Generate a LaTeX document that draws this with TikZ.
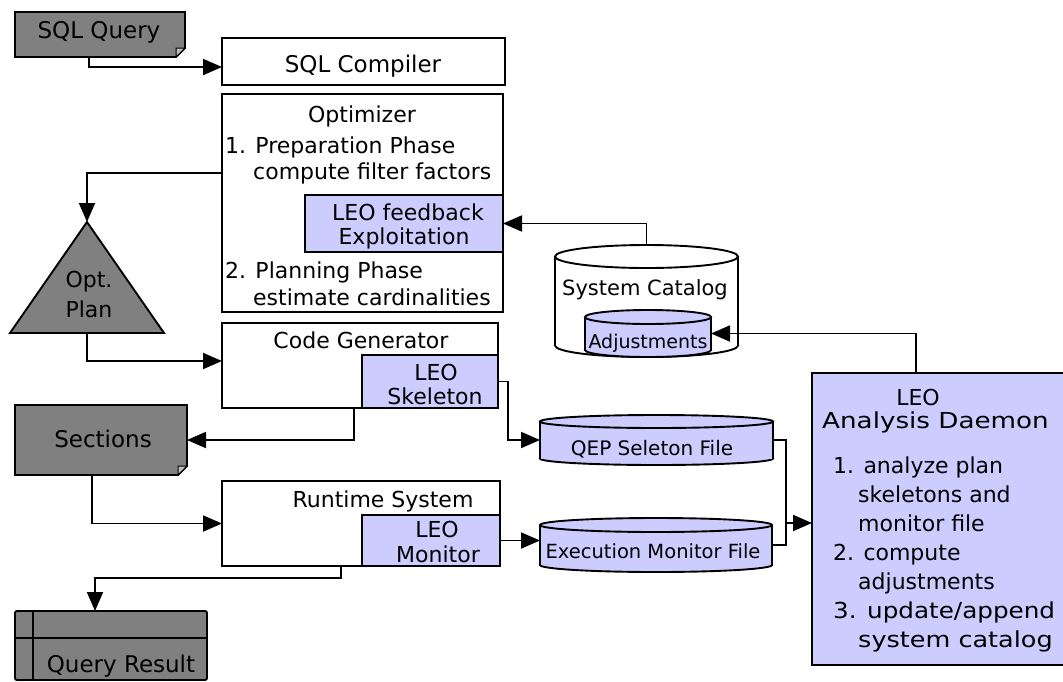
\documentclass[tikz,border=0pt]{standalone}
\usepackage{fontspec}
\setmainfont{DejaVu Sans}
\usetikzlibrary{arrows.meta}
\definecolor{docgray}{RGB}{128,128,128}
\definecolor{foldgray}{RGB}{190,190,190}
\definecolor{leoblue}{RGB}{204,204,255}

% flat storage drum: centre x, x radius, top edge, bottom edge, y radius, fill
\newcommand\drumshape[6]{%
  \filldraw[edge, fill=#6] (#1,#4-#5) ellipse [x radius=#2, y radius=#5];
  \fill[#6] (#1-#2,#3+#5) rectangle (#1+#2,#4-#5);
  \draw[edge] (#1-#2,#3+#5) -- (#1-#2,#4-#5) (#1+#2,#3+#5) -- (#1+#2,#4-#5);
  \filldraw[edge, fill=#6] (#1,#3+#5) ellipse [x radius=#2, y radius=#5];
}
% document sheet with a folded bottom-right corner
\newcommand\docsheet[4]{% left, top, right, bottom
  \filldraw[edge, fill=docgray] (#1,#2) -- (#3,#2) -- (#3,#4-9) -- (#3-9,#4) -- (#1,#4) -- cycle;
  \filldraw[line width=1pt, fill=foldgray] (#3,#4-9) -- (#3-9,#4-9) -- (#3-9,#4) -- cycle;
}

\begin{document}
\begin{tikzpicture}[x=1pt,y=-1pt,
  every node/.style={font=\fontsize{22}{29}\selectfont},
  edge/.style={line width=1.9pt},
  arr/.style={edge,-{Triangle[length=19pt,width=16pt]}},
  frame/.style={draw, line width=1.9pt, inner sep=0pt, outer sep=0pt, anchor=north west},
  plainbox/.style={frame, fill=white},
  leobox/.style={frame, fill=leoblue},
  shell/.style={inner sep=0pt, outer sep=0pt},
  txt/.style={inner sep=0pt, anchor=base},
  txtw/.style={inner sep=0pt, anchor=base west},
  small/.style={font=\fontsize{#1}{#1}\selectfont},
]
\useasboundingbox (0,0) rectangle (1063,681);
\clip (0,0) rectangle (1063,681);
\fill[white] (0,0) rectangle (1063,681);

% ---- processing boxes ----
\node[plainbox, minimum width=283pt, minimum height=47pt] (comp) at (222,38) {};
\node[plainbox, minimum width=281pt, minimum height=218pt] (opt) at (222,94) {};
\node[leobox, minimum width=198pt, minimum height=57pt] (fb) at (305,195) {};
\node[plainbox, minimum width=276pt, minimum height=85pt] (cg) at (222,323) {};
\node[leobox, minimum width=136pt, minimum height=53pt] (skel) at (362,355) {};
\node[plainbox, minimum width=278pt, minimum height=85pt] (rt) at (222,481) {};
\node[leobox, minimum width=138pt, minimum height=51pt] (mon) at (362,515) {};
\node[leobox, minimum width=300pt, minimum height=292pt] (daemon) at (812,373) {};

% ---- documents, plan, result table ----
\docsheet{15}{12}{185}{57}
\node[shell, minimum width=170pt, minimum height=45pt] (sqlq) at (100,34.5) {};
\docsheet{15}{405}{187}{475}
\node[shell, minimum width=172pt, minimum height=70pt] (sec) at (101,440) {};
\filldraw[edge, fill=docgray] (87,222) -- (164,333) -- (10,333) -- cycle;
\node[shell, minimum width=154pt, minimum height=111pt] (plan) at (87,277.5) {};
\filldraw[edge, fill=docgray, rounded corners=2pt] (15,611) rectangle (207,680);
\draw[edge] (15,638) -- (207,638) (33,611) -- (33,680);
\node[shell, minimum width=192pt, minimum height=69pt] (qres) at (111,645.5) {};

% ---- storage ----
\drumshape{646.5}{91.5}{245}{357}{11.5}{white}
\node[shell, minimum width=183pt, minimum height=112pt] (cat) at (646.5,301) {};
\drumshape{648}{63}{310}{357}{7}{leoblue}
\node[shell, minimum width=126pt, minimum height=47pt] (adj) at (648,333.5) {};
\drumshape{656.5}{116.5}{415}{465}{6.5}{leoblue}
\node[shell, minimum width=233pt, minimum height=50pt] (qep) at (656.5,440) {};
\drumshape{656}{116}{518}{572}{7}{leoblue}
\node[shell, minimum width=232pt, minimum height=54pt] (exf) at (656,545) {};

% ---- labels ----
\node[txt, small=23] (sqlql) at (99,38) {SQL Query};
\node[txt, small=23] (compl) at (363,72) {SQL Compiler};
\node[txt] (optl) at (362,122) {Optimizer};
\node[txtw] (opt1a) at (225,153) {1. Preparation Phase};
\node[txtw] (opt1b) at (253,179) {compute filter factors};
\node[txt] (fbl1) at (408,220) {LEO feedback};
\node[txt] (fbl2) at (404,244) {Exploitation};
\node[txtw] (opt2a) at (225,278) {2. Planning Phase};
\node[txtw] (opt2b) at (253,305) {estimate cardinalities};
\node[txt] (planl1) at (89,287) {Opt.};
\node[txt] (planl2) at (89,317) {Plan};
\node[txt] (cgl) at (361,348) {Code Generator};
\node[txt] (skell1) at (436,380) {LEO};
\node[txt] (skell2) at (435,404) {Skeleton};
\node[txt, small=23] (secl) at (103,447) {Sections};
\node[txt] (rtl) at (383,507) {Runtime System};
\node[txt] (monl1) at (437,537) {LEO};
\node[txt] (monl2) at (438,562) {Monitor};
\node[txt, small=23] (qresl) at (121,672) {Query Result};
\node[txt, small=21] (catl) at (645,295) {System Catalog};
\node[txt, small=19] (adjl) at (648,348) {Adjustments};
\node[txt, small=20] (qepl) at (652,455) {QEP Seleton File};
\node[txt, small=19.5] (exfl) at (653,558) {Execution Monitor File};
\node[txt] (dl1) at (918,405) {LEO};
\node[txtw] (dl2) at (822,428) {\scalebox{1.19}[1]{Analysis Daemon}};
\node[txtw] (d1a) at (833,473) {1. analyze plan};
\node[txtw] (d1b) at (858,502) {skeletons and};
\node[txtw] (d1c) at (858,531) {monitor file};
\node[txtw] (d2a) at (833,560) {2. compute};
\node[txtw] (d2b) at (858,589) {adjustments};
\node[txtw] (d3a) at (833,618) {\scalebox{1.12}[1]{3. update/append}};
\node[txtw] (d3b) at (858,647) {\scalebox{1.16}[1]{system catalog}};

% ---- connectors ----
\draw[arr] ([xshift=-11pt]sqlq.south) |- ([yshift=-5.5pt]comp.west);
\draw[arr] ([yshift=30pt]opt.west) -| (plan.north);
\draw[arr] (plan.south) |- ([yshift=4.5pt]cg.west);
\draw[arr] ([xshift=-6pt]cg.south) |- (sec.east);
\draw[arr] (skel.east) -- ++(10,0) |- (qep.west);
\draw[arr] ([xshift=-9pt]sec.south) |- (rt.west);
\draw[arr] (mon.east) -- (mon.east -| exf.west);
\draw[arr] ([xshift=-20pt]rt.south) -- ++(0,12) -| ([xshift=-16pt]qres.north);
\draw[arr] (cat.north) |- (fb.east);
\draw[arr] ([xshift=-46pt]daemon.north) |- (adj.east);
\coordinate (merge) at (786,523);
\draw[edge] (qep.east) -| (merge);
\draw[edge] (exf.east) -| (merge);
\draw[arr] (merge) -- (merge -| daemon.west);
\end{tikzpicture}
\end{document}
